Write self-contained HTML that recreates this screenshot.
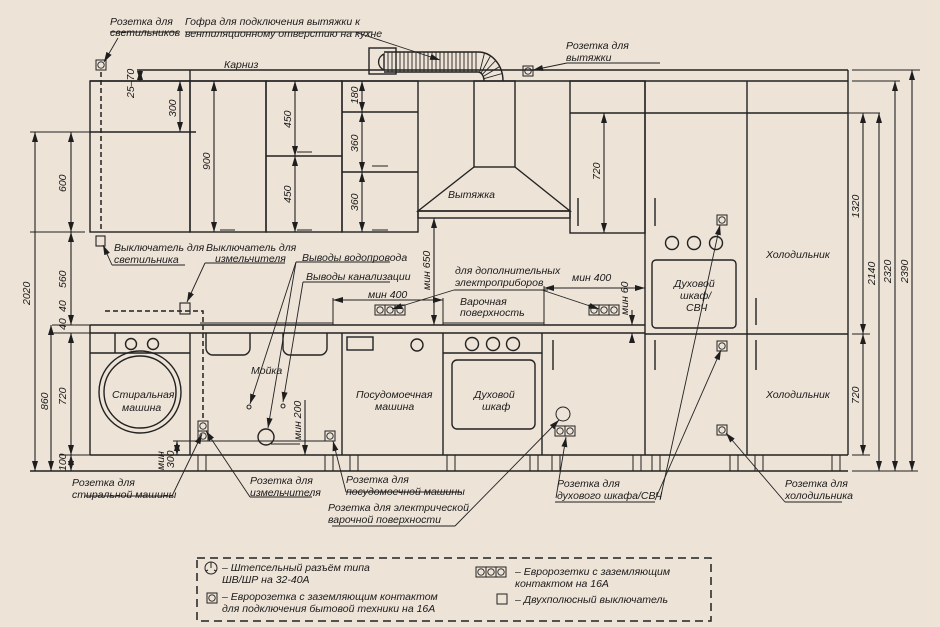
<!DOCTYPE html>
<html><head><meta charset="utf-8"><style>
html,body{margin:0;padding:0;background:#ede3d7;}
svg{display:block}
text{font-family:"Liberation Sans",sans-serif;font-style:italic;font-size:10.5px;fill:#1a1a1a}
</style></head><body>
<svg width="940" height="627" viewBox="0 0 940 627" xmlns="http://www.w3.org/2000/svg">
<defs>
<marker id="a" viewBox="0 0 10 6" refX="10" refY="3" markerWidth="10" markerHeight="6" orient="auto-start-reverse" markerUnits="userSpaceOnUse"><path d="M0,0L10,3L0,6z" fill="#1e1e1e"/></marker>
<g id="s"><rect x="-5" y="-5" width="10" height="10" fill="none" stroke="#222" stroke-width="1"/><circle r="3.2" fill="none" stroke="#222" stroke-width="0.9"/></g>
</defs>
<rect width="940" height="627" fill="#ede3d7"/>
<g stroke="#222" stroke-width="1.4" fill="none">
<line x1="137" y1="70" x2="848" y2="70"/>
<line x1="190" y1="70" x2="190" y2="81"/>
<line x1="90" y1="81" x2="848" y2="81"/>
<line x1="848" y1="70" x2="848" y2="455"/>
<rect x="90" y="81" width="100" height="151"/>
<line x1="90" y1="132" x2="196" y2="132"/>
<rect x="190" y="81" width="76" height="151"/>
<rect x="266" y="81" width="76" height="151"/>
<line x1="266" y1="156" x2="342" y2="156"/>
<rect x="342" y="81" width="76" height="151"/>
<line x1="342" y1="112" x2="418" y2="112"/>
<line x1="342" y1="172" x2="418" y2="172"/>
<rect x="474" y="81" width="41" height="86"/>
<path d="M474,167 L418,211 L570,211 L515,167"/>
<rect x="418" y="211" width="152" height="7"/>
<!-- duct -->
<rect x="369" y="48" width="27" height="26"/>
<path d="M384,54 A10,9 0 0 0 384,70 Z"/>
<path d="M384,52 H478 A25,29 0 0 1 503,81 M484,81 A6,9 0 0 0 478,72 H384"/>
<g stroke-width="0.9"><path d="M388,52V72M392,52V72M396,52V72M400,52V72M404,52V72M408,52V72M412,52V72M416,52V72M420,52V72M424,52V72M428,52V72M432,52V72M436,52V72M440,52V72M444,52V72M448,52V72M452,52V72M456,52V72M460,52V72M464,52V72M468,52V72M472,52V72M476,52V72M484.5,53L479.6,72.3M490.5,55.9L481,73.2M495.7,60.5L482.2,74.6M499.7,66.5L483.2,76.5M502.2,73.5L483.8,78.7"/></g>
<rect x="570" y="81" width="75" height="152"/>
<line x1="570" y1="113" x2="848" y2="113"/>
<line x1="645" y1="81" x2="645" y2="455"/>
<line x1="747" y1="81" x2="747" y2="455"/>
<line x1="645" y1="334" x2="848" y2="334"/>
<rect x="652" y="260" width="84" height="68" rx="4"/>
<circle cx="672" cy="243" r="6.5"/><circle cx="694" cy="243" r="6.5"/><circle cx="716" cy="243" r="6.5"/>
<line x1="578" y1="198" x2="578" y2="226"/><line x1="655" y1="198" x2="655" y2="226"/>
<line x1="756" y1="298" x2="756" y2="325"/>
<line x1="553" y1="340" x2="553" y2="370"/><line x1="655" y1="340" x2="655" y2="370"/><line x1="756" y1="340" x2="756" y2="370"/>
<line x1="90" y1="325" x2="645" y2="325"/>
<line x1="90" y1="333" x2="645" y2="333"/>
<line x1="90" y1="325" x2="90" y2="455"/>
<line x1="200" y1="323" x2="333" y2="323" stroke-width="1"/>
<line x1="333" y1="298" x2="333" y2="325" stroke-width="1"/>
<line x1="443" y1="298" x2="443" y2="325" stroke-width="1"/>
<line x1="544" y1="286" x2="544" y2="325" stroke-width="1"/>
<line x1="443" y1="323" x2="544" y2="323" stroke-width="1"/>
<line x1="90" y1="455" x2="848" y2="455"/>
<line x1="30" y1="471" x2="848" y2="471"/>
<line x1="190" y1="333" x2="190" y2="455"/>
<line x1="342" y1="333" x2="342" y2="455"/>
<line x1="443" y1="333" x2="443" y2="455"/>
<line x1="542" y1="333" x2="542" y2="455"/>
<line x1="90" y1="353" x2="190" y2="353"/>
<line x1="115" y1="333" x2="115" y2="353"/>
<circle cx="131" cy="344" r="5.5"/><circle cx="153" cy="344" r="5.5"/>
<circle cx="140" cy="392" r="41"/><circle cx="140" cy="392" r="36"/>
<path d="M206,333 V348 A7,7 0 0 0 213,355 H243 A7,7 0 0 0 250,348 V333"/>
<path d="M283,333 V348 A7,7 0 0 0 290,355 H320 A7,7 0 0 0 327,348 V333"/>
<rect x="347" y="337" width="26" height="13"/><circle cx="417" cy="345" r="6"/>
<line x1="443" y1="353" x2="542" y2="353"/>
<circle cx="472" cy="344" r="6.5"/><circle cx="493" cy="344" r="6.5"/><circle cx="513" cy="344" r="6.5"/>
<rect x="452" y="360" width="83" height="69" rx="5"/>
<g stroke-width="1"><path d="M198,455V471M206,455V471M325,455V471M333,455V471M350,455V471M358,455V471M447,455V471M455,455V471M530,455V471M538,455V471M552,455V471M560,455V471M633,455V471M641,455V471M652,455V471M660,455V471M730,455V471M738,455V471M755,455V471M763,455V471M832,455V471M840,455V471"/></g>
<circle cx="266" cy="437" r="8"/><line x1="271" y1="444" x2="300" y2="444" stroke-width="1"/>
<circle cx="249" cy="407" r="2" stroke-width="1"/><circle cx="283" cy="406" r="2" stroke-width="1"/>
<line x1="173" y1="441" x2="330" y2="441" stroke-width="1"/>
<circle cx="563" cy="414" r="7" stroke-width="1"/>
</g>
<g stroke="#222" stroke-width="1.5" fill="none" stroke-dasharray="5,3">
<line x1="101" y1="72" x2="101" y2="232"/>
<path d="M105,311 H203 V420"/>
</g>
<g stroke="#222" stroke-width="1.1" fill="none"><rect x="96" y="236" width="9" height="10"/><rect x="180" y="303" width="10" height="11"/></g>
<use href="#s" x="101" y="65"/><use href="#s" x="528" y="71"/><use href="#s" x="722" y="220"/>
<use href="#s" x="722" y="346"/><use href="#s" x="722" y="430"/>
<use href="#s" x="203" y="426"/><use href="#s" x="203" y="436"/><use href="#s" x="330" y="436"/>
<use href="#s" x="560" y="431"/><use href="#s" x="570" y="431"/>
<use href="#s" x="380" y="310"/><use href="#s" x="390" y="310"/><use href="#s" x="400" y="310"/>
<use href="#s" x="594" y="310"/><use href="#s" x="604" y="310"/><use href="#s" x="614" y="310"/>
<g stroke="#222" stroke-width="1.1" fill="none">
<path d="M30,132H90M30,232H85M52,325H90M52,333H90M60,455H90M820,113H870M852,334H870M852,70H920M852,81H900M66,232H85"/>
<line x1="35" y1="132" x2="35" y2="471" marker-start="url(#a)" marker-end="url(#a)"/>
<line x1="71" y1="132" x2="71" y2="232" marker-start="url(#a)" marker-end="url(#a)"/>
<line x1="71" y1="232" x2="71" y2="325" marker-start="url(#a)" marker-end="url(#a)"/>
<line x1="51" y1="325" x2="51" y2="471" marker-start="url(#a)" marker-end="url(#a)"/>
<line x1="71" y1="333" x2="71" y2="455" marker-start="url(#a)" marker-end="url(#a)"/>
<line x1="71" y1="455" x2="71" y2="471" marker-start="url(#a)" marker-end="url(#a)"/>
<line x1="140" y1="70" x2="140" y2="81" marker-start="url(#a)" marker-end="url(#a)"/>
<line x1="180" y1="81" x2="180" y2="132" marker-start="url(#a)" marker-end="url(#a)"/>
<line x1="214" y1="81" x2="214" y2="232" marker-start="url(#a)" marker-end="url(#a)"/>
<line x1="295" y1="81" x2="295" y2="156" marker-start="url(#a)" marker-end="url(#a)"/>
<line x1="295" y1="156" x2="295" y2="232" marker-start="url(#a)" marker-end="url(#a)"/>
<line x1="362" y1="81" x2="362" y2="112" marker-start="url(#a)" marker-end="url(#a)"/>
<line x1="362" y1="112" x2="362" y2="172" marker-start="url(#a)" marker-end="url(#a)"/>
<line x1="362" y1="172" x2="362" y2="232" marker-start="url(#a)" marker-end="url(#a)"/>
<line x1="604" y1="113" x2="604" y2="233" marker-start="url(#a)" marker-end="url(#a)"/>
<line x1="434" y1="218" x2="434" y2="325" marker-start="url(#a)" marker-end="url(#a)"/>
<line x1="333" y1="300" x2="443" y2="300" marker-start="url(#a)" marker-end="url(#a)"/>
<line x1="544" y1="288" x2="645" y2="288" marker-start="url(#a)" marker-end="url(#a)"/>
<line x1="632" y1="310" x2="632" y2="325" marker-end="url(#a)"/>
<line x1="632" y1="340" x2="632" y2="333" marker-end="url(#a)"/>
<line x1="177" y1="441" x2="177" y2="455" marker-start="url(#a)" marker-end="url(#a)"/>
<line x1="305" y1="400" x2="305" y2="455" marker-end="url(#a)"/>
<line x1="863" y1="113" x2="863" y2="334" marker-start="url(#a)" marker-end="url(#a)"/>
<line x1="863" y1="334" x2="863" y2="455" marker-start="url(#a)" marker-end="url(#a)"/>
<line x1="879" y1="113" x2="879" y2="471" marker-start="url(#a)" marker-end="url(#a)"/>
<line x1="895" y1="81" x2="895" y2="471" marker-start="url(#a)" marker-end="url(#a)"/>
<line x1="912" y1="70" x2="912" y2="471" marker-start="url(#a)" marker-end="url(#a)"/>
<path d="M852,455H870M852,471H918M862,113H880"/>
<path d="M220,230H235M297,230H312M297,152H312M372,230H388M372,166H388"/>
</g>
<g stroke="#222" stroke-width="0.9" fill="none">
<path d="M110,32H178M185,32H372"/>
<line x1="118" y1="38" x2="104" y2="62" marker-end="url(#a)"/>
<line x1="355" y1="32" x2="440" y2="60" marker-end="url(#a)"/>
<path d="M567,63H660"/><line x1="567" y1="63" x2="533" y2="70" marker-end="url(#a)"/>
<path d="M185,265H112"/><line x1="112" y1="265" x2="103" y2="245" marker-end="url(#a)"/>
<path d="M205,263H285"/><line x1="205" y1="263" x2="187" y2="302" marker-end="url(#a)"/>
<path d="M390,262H296"/><line x1="296" y1="262" x2="250" y2="404" marker-end="url(#a)"/>
<path d="M390,282H303"/><line x1="303" y1="282" x2="283" y2="402" marker-end="url(#a)"/>
<line x1="296" y1="262" x2="268" y2="428" marker-end="url(#a)"/>
<path d="M548,290H454"/><line x1="454" y1="290" x2="392" y2="309" marker-end="url(#a)"/>
<line x1="542" y1="290" x2="599" y2="309" marker-end="url(#a)"/>
<path d="M85,496H172"/><line x1="172" y1="496" x2="202" y2="434" marker-end="url(#a)"/>
<path d="M250,497H312"/><line x1="250" y1="497" x2="206" y2="431" marker-end="url(#a)"/>
<path d="M346,492H462"/><line x1="346" y1="492" x2="333" y2="441" marker-end="url(#a)"/>
<path d="M332,526H455"/><line x1="455" y1="526" x2="559" y2="420" marker-end="url(#a)"/>
<path d="M555,502H655"/><line x1="556" y1="498" x2="566" y2="437" marker-end="url(#a)"/>
<line x1="655" y1="500" x2="721" y2="350" marker-end="url(#a)"/>
<line x1="660" y1="500" x2="720" y2="225" marker-end="url(#a)"/>
<path d="M785,502H842"/><line x1="785" y1="502" x2="726" y2="433" marker-end="url(#a)"/>
</g>
<rect x="197" y="558" width="514" height="63" fill="none" stroke="#222" stroke-width="1.5" stroke-dasharray="8,5"/>
<g stroke="#222" stroke-width="1" fill="none">
<circle cx="211" cy="568" r="6"/><path d="M211,562V568M206,571l2,-1M216,571l-2,-1"/>
<use href="#s" x="212" y="598"/>
<use href="#s" x="481" y="572"/><use href="#s" x="491" y="572"/><use href="#s" x="501" y="572"/>
<rect x="497" y="594" width="10" height="10"/>
</g>
<text x="110" y="25">Розетка для</text>
<text x="110" y="36">светильников</text>
<text x="185" y="25">Гофра для подключения вытяжки к</text>
<text x="185" y="37">вентиляционному отверстию на кухне</text>
<text x="224" y="68">Карниз</text>
<text x="566" y="49">Розетка для</text>
<text x="566" y="61">вытяжки</text>
<text x="448" y="198">Вытяжка</text>
<text x="114" y="251">Выключатель для</text>
<text x="114" y="263">светильника</text>
<text x="206" y="251">Выключатель для</text>
<text x="215" y="262">измельчителя</text>
<text x="302" y="261">Выводы водопровода</text>
<text x="306" y="280">Выводы канализации</text>
<text x="455" y="274">для дополнительных</text>
<text x="455" y="286">электроприборов</text>
<text x="460" y="305">Варочная</text>
<text x="460" y="316">поверхность</text>
<text x="368" y="298">мин 400</text>
<text x="572" y="281">мин 400</text>
<text x="251" y="374">Мойка</text>
<text x="112" y="398">Стиральная</text>
<text x="122" y="411">машина</text>
<text x="356" y="398">Посудомоечная</text>
<text x="375" y="410">машина</text>
<text x="474" y="398">Духовой</text>
<text x="482" y="410">шкаф</text>
<text x="674" y="287">Духовой</text>
<text x="680" y="299">шкаф/</text>
<text x="686" y="311">СВЧ</text>
<text x="766" y="258">Холодильник</text>
<text x="766" y="398">Холодильник</text>
<text x="72" y="486">Розетка для</text>
<text x="72" y="498">стиральной машины</text>
<text x="250" y="484">Розетка для</text>
<text x="250" y="496">измельчителя</text>
<text x="346" y="483">Розетка для</text>
<text x="346" y="495">посудомоечной машины</text>
<text x="328" y="511">Розетка для электрической</text>
<text x="328" y="523">варочной поверхности</text>
<text x="557" y="487">Розетка для</text>
<text x="557" y="499">духового шкафа/СВЧ</text>
<text x="785" y="487">Розетка для</text>
<text x="785" y="499">холодильника</text>
<text x="222" y="571">– Штепсельный разъём типа</text>
<text x="222" y="583">ШВ/ШР на 32-40А</text>
<text x="222" y="600">– Евророзетка с заземляющим контактом</text>
<text x="222" y="612">для подключения бытовой техники на 16А</text>
<text x="515" y="575">– Евророзетки с заземляющим</text>
<text x="515" y="587">контактом на 16А</text>
<text x="515" y="603">– Двухполюсный выключатель</text>
<g font-size="10">
<text transform="translate(30,305) rotate(-90)">2020</text>
<text transform="translate(66,192) rotate(-90)">600</text>
<text transform="translate(66,288) rotate(-90)">560</text>
<text transform="translate(66,312) rotate(-90)">40</text>
<text transform="translate(66,330) rotate(-90)">40</text>
<text transform="translate(48,410) rotate(-90)">860</text>
<text transform="translate(66,405) rotate(-90)">720</text>
<text transform="translate(66,471) rotate(-90)">100</text>
<text transform="translate(134,98) rotate(-90)">25–70</text>
<text transform="translate(176,117) rotate(-90)">300</text>
<text transform="translate(210,170) rotate(-90)">900</text>
<text transform="translate(291,128) rotate(-90)">450</text>
<text transform="translate(291,203) rotate(-90)">450</text>
<text transform="translate(358,104) rotate(-90)">180</text>
<text transform="translate(358,152) rotate(-90)">360</text>
<text transform="translate(358,211) rotate(-90)">360</text>
<text transform="translate(600,180) rotate(-90)">720</text>
<text transform="translate(430,290) rotate(-90)">мин 650</text>
<text transform="translate(628,315) rotate(-90)">мин 60</text>
<text transform="translate(301,440) rotate(-90)">мин 200</text>
<text transform="translate(164,470) rotate(-90)">мин</text>
<text transform="translate(174,468) rotate(-90)">300</text>
<text transform="translate(859,218) rotate(-90)">1320</text>
<text transform="translate(859,404) rotate(-90)">720</text>
<text transform="translate(875,285) rotate(-90)">2140</text>
<text transform="translate(891,283) rotate(-90)">2320</text>
<text transform="translate(908,283) rotate(-90)">2390</text>
</g>
</svg>
</body></html>
